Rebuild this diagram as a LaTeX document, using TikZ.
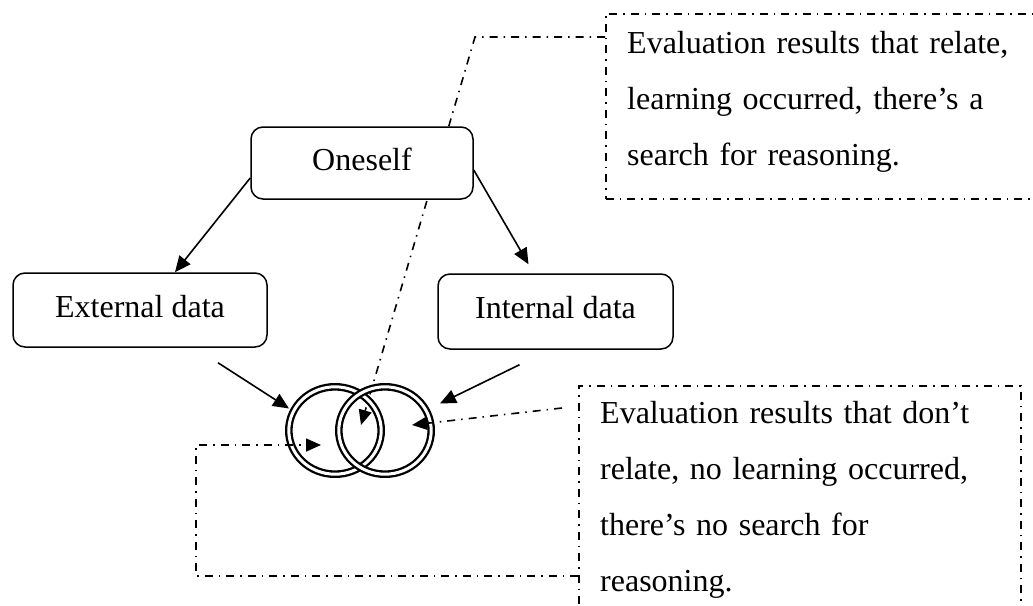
\documentclass[tikz,border=0pt]{standalone}
\usepackage{fontspec}
\setmainfont{Liberation Serif}
\usetikzlibrary{arrows.meta,calc,shapes.geometric}
\begin{document}
\begin{tikzpicture}[x=1pt,y=-1pt,
  rbox/.style={draw,line width=1.5pt,rounded corners=12pt,fill=white,inner sep=0pt,
    font=\fontsize{32}{38}\selectfont,text height=22pt,text depth=8pt},
  callout/.style={draw,line width=1.6pt,dash pattern=on 8pt off 6pt on 1.5pt off 6pt,inner sep=0pt},
  ctext/.style={anchor=base west,text width=430pt,align=left,inner sep=0pt,
    font=\fontsize{32}{56}\selectfont},
  ring/.style={ellipse,draw,double,line width=2.3pt,double distance=3pt,inner sep=0pt,
    minimum width=92.4pt,minimum height=87.4pt},
  arr/.style={line width=1.6pt,-{Triangle[length=16pt,width=14pt]}},
  dd/.style={line width=1.6pt,dash pattern=on 8pt off 6pt on 1.5pt off 6pt,
    -{Triangle[length=15pt,width=13pt]}}]
\clip (0,0) rectangle (1033,605);
% callout boxes
\node[callout,minimum width=440pt,minimum height=185pt,anchor=north west] (topbox) at (605,13) {};
\node[callout,minimum width=442pt,minimum height=260pt,anchor=north west] (botbox) at (578,385) {};
\node[ctext] (toptext) at (627,53) {Evaluation results that relate,\\ learning occurred, there’s a\\ search for reasoning.};
\node[ctext] (bottext) at (600,423) {Evaluation results that don’t\\ relate, no learning occurred,\\ there’s no search for\\ reasoning.};
% pointer coordinates
\coordinate (k1) at (475,37);
\coordinate (t1) at (361,425);
\coordinate (t2) at (412,425);
\coordinate (k2) at (196,445);
\coordinate (t3) at (321,445);
% top pointer (behind Oneself box)
\draw[dd] ($(topbox.north west)+(0,24)$) -- (k1) -- (t1);
% rings
\node[ring] (lc) at (335,430.5) {};
\node[ring] (rc) at (385,430.5) {};
% boxes
\node[rbox,minimum width=222pt,minimum height=72pt] (self) at (362,163) {Oneself};
\node[rbox,minimum width=254pt,minimum height=74pt] (ext) at (140,310) {External data};
\node[rbox,minimum width=235pt,minimum height=75pt] (int) at (555.5,311.5) {Internal data};
% arrows
\draw[arr] ($(self.west)+(0,15)$) -- ($(ext.north)+(35,0)$);
\draw[arr] ($(self.east)+(0,7)$) -- ($(int.north)+(-27,-9)$);
\draw[arr] ($(ext.south)+(78,15)$) -- ($(lc.center)+(-46,-22)$);
\draw[arr] ($(int.south)+(-36,15)$) -- ($(rc.center)+(55,-27)$);
% bottom pointers
\draw[dd] ($(botbox.north west)+(-16,23)$) -- (t2);
\draw[dd] ($(botbox.north west)+(0,191)$) -| (k2) -- (t3);
\end{tikzpicture}
\end{document}
